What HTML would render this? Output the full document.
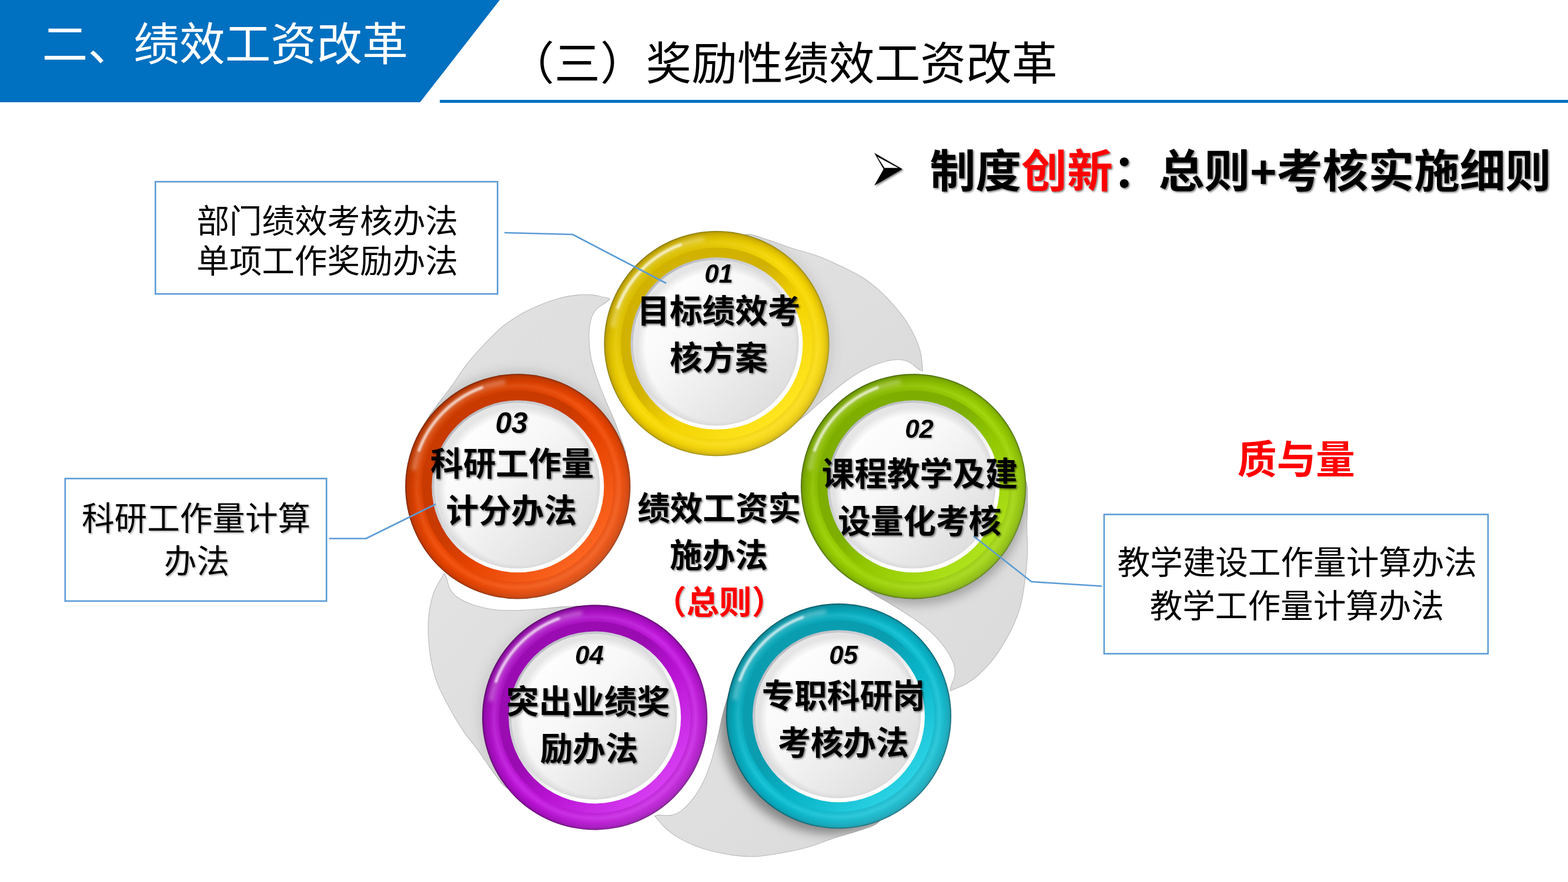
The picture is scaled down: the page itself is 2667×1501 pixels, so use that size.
<!DOCTYPE html>
<html lang="zh-CN"><head><meta charset="utf-8"><title>二、绩效工资改革 — （三）奖励性绩效工资改革</title>
<style>
html,body{margin:0;padding:0;background:#fff}
body{width:2667px;height:1501px;position:relative;overflow:hidden;font-family:"Liberation Sans",sans-serif}
svg{position:absolute;left:0;top:0;display:block}
svg text{font-family:"Liberation Sans","Noto Sans CJK SC",sans-serif;white-space:pre}
</style></head><body>
<svg width="2667" height="1501" viewBox="0 0 2667 1501">
<defs>
<filter id="ts" x="-5%" y="-20%" width="112%" height="150%"><feGaussianBlur in="SourceAlpha" stdDeviation="1.5"/><feOffset dx="2.4" dy="2.4"/><feComponentTransfer><feFuncA type="linear" slope=".5"/></feComponentTransfer><feMerge><feMergeNode/><feMergeNode in="SourceGraphic"/></feMerge></filter>
<filter id="ts2" x="-5%" y="-20%" width="112%" height="150%"><feGaussianBlur in="SourceAlpha" stdDeviation="1.1"/><feOffset dx="1.5" dy="1.5"/><feComponentTransfer><feFuncA type="linear" slope=".28"/></feComponentTransfer><feMerge><feMergeNode/><feMergeNode in="SourceGraphic"/></feMerge></filter>
<filter id="b1" x="-30%" y="-30%" width="160%" height="160%"><feGaussianBlur stdDeviation="1.4"/></filter>
<filter id="b2" x="-30%" y="-30%" width="160%" height="160%"><feGaussianBlur stdDeviation="3"/></filter>
<filter id="b9" x="-30%" y="-30%" width="160%" height="160%"><feGaussianBlur stdDeviation="9"/></filter>
<linearGradient id="disc" x1=".15" y1=".15" x2=".85" y2=".85"><stop offset="0" stop-color="#fff"/><stop offset=".4" stop-color="#f7f7f7"/><stop offset="1" stop-color="#dfdfdf"/></linearGradient>
<linearGradient id="dedge" x1=".15" y1=".15" x2=".85" y2=".85"><stop offset="0" stop-color="#b9bbc2"/><stop offset=".45" stop-color="#dedee2"/><stop offset=".7" stop-color="#fff"/><stop offset="1" stop-color="#fff"/></linearGradient>
<radialGradient id="dsh" cx=".525" cy=".525" r=".5"><stop offset=".9" stop-color="#000" stop-opacity="0"/><stop offset="1" stop-color="#000" stop-opacity=".10"/></radialGradient>
<linearGradient id="lite" x1=".15" y1=".15" x2=".85" y2=".85"><stop offset="0" stop-color="#000" stop-opacity=".13"/><stop offset=".45" stop-color="#000" stop-opacity="0"/><stop offset=".6" stop-color="#fff" stop-opacity="0"/><stop offset="1" stop-color="#fff" stop-opacity=".12"/></linearGradient>
<linearGradient id="pet" x1="0" y1="0" x2="1" y2="1"><stop offset="0" stop-color="#e3e3e3"/><stop offset="1" stop-color="#dadada"/></linearGradient>
<radialGradient id="rby" r=".5"><stop offset=".85" stop-color="#F2D200"/><stop offset=".895" stop-color="#F9DC11"/><stop offset=".935" stop-color="#F2D200"/><stop offset=".962" stop-color="#E4C400"/><stop offset=".985" stop-color="#D2B200"/><stop offset="1" stop-color="#8E8414"/></radialGradient>
<linearGradient id="rvy" x1=".15" y1=".15" x2=".85" y2=".85"><stop offset="0" stop-color="#D2B200"/><stop offset=".4" stop-color="#D2B200"/><stop offset=".62" stop-color="#F2D200"/><stop offset="1" stop-color="#FFE51F"/></linearGradient>
<radialGradient id="rbg" r=".5"><stop offset=".85" stop-color="#93C800"/><stop offset=".895" stop-color="#A2D60E"/><stop offset=".935" stop-color="#93C800"/><stop offset=".962" stop-color="#89BC00"/><stop offset=".985" stop-color="#7DAE00"/><stop offset="1" stop-color="#44640A"/></radialGradient>
<linearGradient id="rvg" x1=".15" y1=".15" x2=".85" y2=".85"><stop offset="0" stop-color="#7DAE00"/><stop offset=".4" stop-color="#7DAE00"/><stop offset=".62" stop-color="#93C800"/><stop offset="1" stop-color="#AEE21A"/></linearGradient>
<radialGradient id="rbc" r=".5"><stop offset=".85" stop-color="#08B3C7"/><stop offset=".895" stop-color="#1BC4D7"/><stop offset=".935" stop-color="#08B3C7"/><stop offset=".962" stop-color="#09A9BD"/><stop offset=".985" stop-color="#0A9DB0"/><stop offset="1" stop-color="#065661"/></radialGradient>
<linearGradient id="rvc" x1=".15" y1=".15" x2=".85" y2=".85"><stop offset="0" stop-color="#0A9DB0"/><stop offset=".4" stop-color="#0A9DB0"/><stop offset=".62" stop-color="#08B3C7"/><stop offset="1" stop-color="#2AD2E4"/></linearGradient>
<radialGradient id="rbp" r=".5"><stop offset=".85" stop-color="#B812D2"/><stop offset=".895" stop-color="#C829E4"/><stop offset=".935" stop-color="#B812D2"/><stop offset=".962" stop-color="#AA0FC4"/><stop offset=".985" stop-color="#9A0CB2"/><stop offset="1" stop-color="#5C0A6A"/></radialGradient>
<linearGradient id="rvp" x1=".15" y1=".15" x2=".85" y2=".85"><stop offset="0" stop-color="#9A0CB2"/><stop offset=".4" stop-color="#9A0CB2"/><stop offset=".62" stop-color="#B812D2"/><stop offset="1" stop-color="#D63CF2"/></linearGradient>
<radialGradient id="rbo" r=".5"><stop offset=".85" stop-color="#E64300"/><stop offset=".895" stop-color="#F25512"/><stop offset=".935" stop-color="#E64300"/><stop offset=".962" stop-color="#D83F00"/><stop offset=".985" stop-color="#C83A00"/><stop offset="1" stop-color="#7E2A0C"/></radialGradient>
<linearGradient id="rvo" x1=".15" y1=".15" x2=".85" y2=".85"><stop offset="0" stop-color="#C83A00"/><stop offset=".4" stop-color="#C83A00"/><stop offset=".62" stop-color="#E64300"/><stop offset="1" stop-color="#FC6420"/></linearGradient>
<clipPath id="cp0"><path d="M1239.7 414.6C1244.5 412 1257.7 400.2 1268.3 399C1278.9 397.8 1290.8 403.4 1303.5 407.2C1316.2 411 1331 417.2 1344.8 421.7C1358.6 426.2 1372.4 429.1 1386.2 434.1C1400 439.1 1413.8 445.1 1427.6 451.7C1441.4 458.3 1456.9 465.7 1469 473.5C1481.1 481.3 1490.7 489.7 1500 498.3C1509.3 506.9 1517.7 516.6 1524.9 525.2C1532.2 533.8 1538 541.4 1543.5 550C1549 558.6 1554.2 568.3 1558 576.9C1561.8 585.5 1564.3 592.6 1566.2 601.7C1568.1 610.8 1568.8 626.5 1569.3 631.5C1568.1 630.9 1565.9 630.6 1562 628C1558.1 625.4 1552 618.7 1546 616C1540 613.3 1534.3 611.7 1526 612C1517.7 612.3 1506 614.8 1496 618C1486 621.2 1476.5 625.2 1466 631C1455.5 636.8 1444.3 644.5 1433 653C1421.7 661.5 1408.2 673.3 1398 682C1387.8 690.7 1383.7 695.5 1372 705C1360.3 714.5 1335.3 733.3 1328 739L1219 584.6Z"/></clipPath><clipPath id="cp1"><path d="M1720.9 795.1C1724.8 798.9 1740.1 807.8 1744.5 817.5C1749 827.2 1747.3 840.2 1747.6 853.5C1748 866.8 1746.6 882.8 1746.6 897.3C1746.6 911.8 1748.1 925.8 1747.6 940.5C1747.1 955.2 1745.6 970.2 1743.6 985.3C1741.7 1000.5 1739.4 1017.5 1735.7 1031.4C1732 1045.3 1727 1057 1721.7 1068.6C1716.4 1080.1 1709.8 1091 1703.8 1100.6C1697.9 1110.1 1692.5 1118 1686 1125.9C1679.5 1133.8 1671.9 1141.7 1664.9 1148C1657.8 1154.3 1651.9 1158.9 1643.8 1163.5C1635.7 1168.1 1621 1173.6 1616.4 1175.6C1616.6 1174.3 1616.2 1172.1 1617.5 1167.6C1618.8 1163.1 1623.3 1155.2 1624 1148.7C1624.7 1142.2 1624.5 1136.2 1621.6 1128.4C1618.7 1120.6 1612.7 1110.3 1606.6 1101.7C1600.5 1093.2 1593.8 1085.4 1585 1077.2C1576.2 1069 1565.5 1060.8 1553.9 1052.6C1542.3 1044.5 1526.9 1035.3 1515.5 1028.3C1504.1 1021.3 1498.2 1018.9 1485.6 1010.7C1472.9 1002.5 1447.3 984.6 1439.6 979.4L1553.7 827.8Z"/></clipPath><clipPath id="cp2"><path d="M1507.6 1370.4C1505.3 1375.3 1501.5 1392.5 1493.7 1399.8C1485.8 1407 1472.9 1409.4 1460.4 1413.8C1447.8 1418.3 1432.2 1421.9 1418.4 1426.4C1404.7 1430.8 1391.8 1436.6 1377.7 1440.7C1363.6 1444.7 1348.8 1448 1333.8 1450.8C1318.8 1453.6 1301.8 1456.7 1287.5 1457.5C1273.2 1458.3 1260.5 1457.1 1247.9 1455.6C1235.3 1454.1 1222.8 1451.2 1211.9 1448.5C1201 1445.8 1191.8 1443.1 1182.3 1439.4C1172.7 1435.6 1162.9 1430.9 1154.7 1426.1C1146.6 1421.4 1140.4 1417.1 1133.5 1410.9C1126.6 1404.6 1116.8 1392.3 1113.5 1388.6C1114.8 1388.4 1116.8 1387.3 1121.5 1387.1C1126.1 1386.9 1135 1388.8 1141.5 1387.4C1147.9 1386.1 1153.4 1384.1 1160 1378.9C1166.5 1373.8 1174.5 1364.9 1180.7 1356.4C1187 1348 1192.3 1339.2 1197.4 1328.3C1202.4 1317.4 1207 1304.6 1211.1 1291.1C1215.3 1277.6 1219.3 1260 1222.4 1247.1C1225.5 1234.1 1226.1 1227.7 1229.9 1213.2C1233.8 1198.6 1242.9 1168.7 1245.5 1159.8L1426.5 1218.7Z"/></clipPath><clipPath id="cp3"><path d="M894.7 1345.3C889.3 1344.6 871.7 1346.4 862.4 1341.1C853.1 1335.9 846.8 1324.3 838.7 1313.8C830.6 1303.2 822.4 1289.5 813.8 1277.8C805.3 1266.1 795.9 1255.6 787.6 1243.4C779.4 1231.3 771.8 1218.3 764.5 1204.8C757.2 1191.4 749 1176.2 743.8 1162.9C738.6 1149.5 735.8 1137 733.3 1124.6C730.8 1112.1 729.8 1099.4 729 1088.2C728.2 1077 727.9 1067.4 728.5 1057.2C729.1 1047 730.6 1036.1 732.6 1026.9C734.6 1017.7 736.7 1010.5 740.5 1002C744.4 993.6 753 980.4 755.5 976.1C756.2 977.3 757.8 978.8 759.4 983.2C761 987.6 762 996.6 765.3 1002.3C768.6 1008 772.2 1012.7 779.1 1017.3C786 1021.9 796.9 1026.8 806.9 1030.1C816.9 1033.4 826.9 1035.8 838.8 1037.2C850.7 1038.7 864.3 1039 878.4 1038.8C892.6 1038.6 910.5 1037 923.8 1035.9C937.1 1034.9 943.3 1033.4 958.4 1032.6C973.4 1031.8 1004.7 1031.2 1013.9 1031L1011.7 1220.9Z"/></clipPath><clipPath id="cp4"><path d="M729.1 754.6C728.1 749.3 721 733.1 723.1 722.6C725.2 712.1 734.2 702.6 741.8 691.7C749.3 680.7 759.8 668.6 768.3 656.9C776.9 645.1 783.9 632.9 792.9 621.3C801.9 609.7 811.9 598.5 822.4 587.4C833 576.3 844.9 563.8 856 554.7C867.1 545.7 878.1 539.1 889.1 532.9C900.2 526.7 912 521.8 922.4 517.6C932.9 513.3 941.9 510.1 951.8 507.5C961.7 504.9 972.5 503 981.8 502.1C991.2 501.1 998.7 500.9 1007.9 501.9C1017.2 502.9 1032.4 507.1 1037.2 508.2C1036.3 509.2 1035.3 511.1 1031.7 514C1028 516.9 1019.7 520.7 1015.3 525.5C1010.9 530.4 1007.6 535.3 1005.3 543.3C1003.1 551.4 1001.8 563.2 1001.7 573.7C1001.7 584.2 1002.5 594.5 1004.8 606.3C1007.1 618.1 1011 631 1015.6 644.5C1020.1 657.9 1027.2 674.4 1032.3 686.7C1037.4 699 1040.7 704.5 1046.2 718.5C1051.6 732.6 1061.8 762.2 1064.9 770.9L880.8 827.8Z"/></clipPath>
</defs>
<path d="M0 0H850L714.5 174H0Z" fill="#0070c0"/>
<rect x="748" y="170" width="1919" height="5" fill="#0070c0"/>
<rect x="264.3" y="309.2" width="582" height="191" fill="#fff" stroke="#5b9bd5" stroke-width="2.6"/>
<rect x="110.8" y="814.4" width="444.5" height="208.5" fill="#fff" stroke="#5b9bd5" stroke-width="2.6"/>
<rect x="1878" y="875.5" width="653" height="237" fill="#fff" stroke="#5b9bd5" stroke-width="2.6"/>
<path d="M1239.7 414.6C1244.5 412 1257.7 400.2 1268.3 399C1278.9 397.8 1290.8 403.4 1303.5 407.2C1316.2 411 1331 417.2 1344.8 421.7C1358.6 426.2 1372.4 429.1 1386.2 434.1C1400 439.1 1413.8 445.1 1427.6 451.7C1441.4 458.3 1456.9 465.7 1469 473.5C1481.1 481.3 1490.7 489.7 1500 498.3C1509.3 506.9 1517.7 516.6 1524.9 525.2C1532.2 533.8 1538 541.4 1543.5 550C1549 558.6 1554.2 568.3 1558 576.9C1561.8 585.5 1564.3 592.6 1566.2 601.7C1568.1 610.8 1568.8 626.5 1569.3 631.5C1568.1 630.9 1565.9 630.6 1562 628C1558.1 625.4 1552 618.7 1546 616C1540 613.3 1534.3 611.7 1526 612C1517.7 612.3 1506 614.8 1496 618C1486 621.2 1476.5 625.2 1466 631C1455.5 636.8 1444.3 644.5 1433 653C1421.7 661.5 1408.2 673.3 1398 682C1387.8 690.7 1383.7 695.5 1372 705C1360.3 714.5 1335.3 733.3 1328 739L1219 584.6Z" fill="url(#pet)" stroke="#b9b9b9" stroke-width="1.1"/>
<path d="M1720.9 795.1C1724.8 798.9 1740.1 807.8 1744.5 817.5C1749 827.2 1747.3 840.2 1747.6 853.5C1748 866.8 1746.6 882.8 1746.6 897.3C1746.6 911.8 1748.1 925.8 1747.6 940.5C1747.1 955.2 1745.6 970.2 1743.6 985.3C1741.7 1000.5 1739.4 1017.5 1735.7 1031.4C1732 1045.3 1727 1057 1721.7 1068.6C1716.4 1080.1 1709.8 1091 1703.8 1100.6C1697.9 1110.1 1692.5 1118 1686 1125.9C1679.5 1133.8 1671.9 1141.7 1664.9 1148C1657.8 1154.3 1651.9 1158.9 1643.8 1163.5C1635.7 1168.1 1621 1173.6 1616.4 1175.6C1616.6 1174.3 1616.2 1172.1 1617.5 1167.6C1618.8 1163.1 1623.3 1155.2 1624 1148.7C1624.7 1142.2 1624.5 1136.2 1621.6 1128.4C1618.7 1120.6 1612.7 1110.3 1606.6 1101.7C1600.5 1093.2 1593.8 1085.4 1585 1077.2C1576.2 1069 1565.5 1060.8 1553.9 1052.6C1542.3 1044.5 1526.9 1035.3 1515.5 1028.3C1504.1 1021.3 1498.2 1018.9 1485.6 1010.7C1472.9 1002.5 1447.3 984.6 1439.6 979.4L1553.7 827.8Z" fill="url(#pet)" stroke="#b9b9b9" stroke-width="1.1"/>
<path d="M1507.6 1370.4C1505.3 1375.3 1501.5 1392.5 1493.7 1399.8C1485.8 1407 1472.9 1409.4 1460.4 1413.8C1447.8 1418.3 1432.2 1421.9 1418.4 1426.4C1404.7 1430.8 1391.8 1436.6 1377.7 1440.7C1363.6 1444.7 1348.8 1448 1333.8 1450.8C1318.8 1453.6 1301.8 1456.7 1287.5 1457.5C1273.2 1458.3 1260.5 1457.1 1247.9 1455.6C1235.3 1454.1 1222.8 1451.2 1211.9 1448.5C1201 1445.8 1191.8 1443.1 1182.3 1439.4C1172.7 1435.6 1162.9 1430.9 1154.7 1426.1C1146.6 1421.4 1140.4 1417.1 1133.5 1410.9C1126.6 1404.6 1116.8 1392.3 1113.5 1388.6C1114.8 1388.4 1116.8 1387.3 1121.5 1387.1C1126.1 1386.9 1135 1388.8 1141.5 1387.4C1147.9 1386.1 1153.4 1384.1 1160 1378.9C1166.5 1373.8 1174.5 1364.9 1180.7 1356.4C1187 1348 1192.3 1339.2 1197.4 1328.3C1202.4 1317.4 1207 1304.6 1211.1 1291.1C1215.3 1277.6 1219.3 1260 1222.4 1247.1C1225.5 1234.1 1226.1 1227.7 1229.9 1213.2C1233.8 1198.6 1242.9 1168.7 1245.5 1159.8L1426.5 1218.7Z" fill="url(#pet)" stroke="#b9b9b9" stroke-width="1.1"/>
<path d="M894.7 1345.3C889.3 1344.6 871.7 1346.4 862.4 1341.1C853.1 1335.9 846.8 1324.3 838.7 1313.8C830.6 1303.2 822.4 1289.5 813.8 1277.8C805.3 1266.1 795.9 1255.6 787.6 1243.4C779.4 1231.3 771.8 1218.3 764.5 1204.8C757.2 1191.4 749 1176.2 743.8 1162.9C738.6 1149.5 735.8 1137 733.3 1124.6C730.8 1112.1 729.8 1099.4 729 1088.2C728.2 1077 727.9 1067.4 728.5 1057.2C729.1 1047 730.6 1036.1 732.6 1026.9C734.6 1017.7 736.7 1010.5 740.5 1002C744.4 993.6 753 980.4 755.5 976.1C756.2 977.3 757.8 978.8 759.4 983.2C761 987.6 762 996.6 765.3 1002.3C768.6 1008 772.2 1012.7 779.1 1017.3C786 1021.9 796.9 1026.8 806.9 1030.1C816.9 1033.4 826.9 1035.8 838.8 1037.2C850.7 1038.7 864.3 1039 878.4 1038.8C892.6 1038.6 910.5 1037 923.8 1035.9C937.1 1034.9 943.3 1033.4 958.4 1032.6C973.4 1031.8 1004.7 1031.2 1013.9 1031L1011.7 1220.9Z" fill="url(#pet)" stroke="#b9b9b9" stroke-width="1.1"/>
<path d="M729.1 754.6C728.1 749.3 721 733.1 723.1 722.6C725.2 712.1 734.2 702.6 741.8 691.7C749.3 680.7 759.8 668.6 768.3 656.9C776.9 645.1 783.9 632.9 792.9 621.3C801.9 609.7 811.9 598.5 822.4 587.4C833 576.3 844.9 563.8 856 554.7C867.1 545.7 878.1 539.1 889.1 532.9C900.2 526.7 912 521.8 922.4 517.6C932.9 513.3 941.9 510.1 951.8 507.5C961.7 504.9 972.5 503 981.8 502.1C991.2 501.1 998.7 500.9 1007.9 501.9C1017.2 502.9 1032.4 507.1 1037.2 508.2C1036.3 509.2 1035.3 511.1 1031.7 514C1028 516.9 1019.7 520.7 1015.3 525.5C1010.9 530.4 1007.6 535.3 1005.3 543.3C1003.1 551.4 1001.8 563.2 1001.7 573.7C1001.7 584.2 1002.5 594.5 1004.8 606.3C1007.1 618.1 1011 631 1015.6 644.5C1020.1 657.9 1027.2 674.4 1032.3 686.7C1037.4 699 1040.7 704.5 1046.2 718.5C1051.6 732.6 1061.8 762.2 1064.9 770.9L880.8 827.8Z" fill="url(#pet)" stroke="#b9b9b9" stroke-width="1.1"/>
<g clip-path="url(#cp0)"><circle cx="1228.5" cy="581.5" r="190" fill="#000" fill-opacity="0.08" filter="url(#b9)"/></g>
<g clip-path="url(#cp1)"><circle cx="1556.8" cy="839.4" r="190" fill="#000" fill-opacity="0.26" filter="url(#b9)"/></g>
<g clip-path="url(#cp2)"><circle cx="1414.2" cy="1229" r="190" fill="#000" fill-opacity="0.4" filter="url(#b9)"/></g>
<g clip-path="url(#cp3)"><circle cx="1002.2" cy="1217.8" r="190" fill="#000" fill-opacity="0.08" filter="url(#b9)"/></g>
<g clip-path="url(#cp4)"><circle cx="880.8" cy="819.8" r="190" fill="#000" fill-opacity="0.13" filter="url(#b9)"/></g>
<g transform="translate(1219 584.6)"><circle r="191.6" fill="url(#rby)"/><circle r="191.6" fill="url(#lite)"/><circle r="163" fill="url(#rvy)"/><circle r="146.5" fill="url(#dedge)"/><circle r="141" cx="-1.2" cy="-1.2" fill="url(#disc)"/><circle r="141" cx="-1.2" cy="-1.2" fill="url(#dsh)"/><path d="M-176.3 -31.1A179 179 0 0 1 -24.9 -177.3" fill="none" stroke="#fff" stroke-opacity="0.3" stroke-width="8" stroke-linecap="round" filter="url(#b2)"/><path d="M-168.2 -61.2A179 179 0 0 1 -61.2 -168.2" fill="none" stroke="#fff" stroke-opacity="0.75" stroke-width="4.5" stroke-linecap="round" filter="url(#b1)"/></g>
<g transform="translate(1553.7 827.8)"><circle r="191.6" fill="url(#rbg)"/><circle r="191.6" fill="url(#lite)"/><circle r="163" fill="url(#rvg)"/><circle r="146.5" fill="url(#dedge)"/><circle r="141" cx="-1.2" cy="-1.2" fill="url(#disc)"/><circle r="141" cx="-1.2" cy="-1.2" fill="url(#dsh)"/><path d="M-176.3 -31.1A179 179 0 0 1 -24.9 -177.3" fill="none" stroke="#fff" stroke-opacity="0.3" stroke-width="8" stroke-linecap="round" filter="url(#b2)"/><path d="M-168.2 -61.2A179 179 0 0 1 -61.2 -168.2" fill="none" stroke="#fff" stroke-opacity="0.75" stroke-width="4.5" stroke-linecap="round" filter="url(#b1)"/></g>
<g transform="translate(1426.5 1218.7)"><circle r="191.6" fill="url(#rbc)"/><circle r="191.6" fill="url(#lite)"/><circle r="163" fill="url(#rvc)"/><circle r="146.5" fill="url(#dedge)"/><circle r="141" cx="-1.2" cy="-1.2" fill="url(#disc)"/><circle r="141" cx="-1.2" cy="-1.2" fill="url(#dsh)"/><path d="M-176.3 -31.1A179 179 0 0 1 -24.9 -177.3" fill="none" stroke="#fff" stroke-opacity="0.3" stroke-width="8" stroke-linecap="round" filter="url(#b2)"/><path d="M-168.2 -61.2A179 179 0 0 1 -61.2 -168.2" fill="none" stroke="#fff" stroke-opacity="0.75" stroke-width="4.5" stroke-linecap="round" filter="url(#b1)"/></g>
<g transform="translate(1011.7 1220.9)"><circle r="191.6" fill="url(#rbp)"/><circle r="191.6" fill="url(#lite)"/><circle r="163" fill="url(#rvp)"/><circle r="146.5" fill="url(#dedge)"/><circle r="141" cx="-1.2" cy="-1.2" fill="url(#disc)"/><circle r="141" cx="-1.2" cy="-1.2" fill="url(#dsh)"/><path d="M-176.3 -31.1A179 179 0 0 1 -24.9 -177.3" fill="none" stroke="#fff" stroke-opacity="0.3" stroke-width="8" stroke-linecap="round" filter="url(#b2)"/><path d="M-168.2 -61.2A179 179 0 0 1 -61.2 -168.2" fill="none" stroke="#fff" stroke-opacity="0.75" stroke-width="4.5" stroke-linecap="round" filter="url(#b1)"/></g>
<g transform="translate(880.8 827.8)"><circle r="191.6" fill="url(#rbo)"/><circle r="191.6" fill="url(#lite)"/><circle r="163" fill="url(#rvo)"/><circle r="146.5" fill="url(#dedge)"/><circle r="141" cx="-1.2" cy="-1.2" fill="url(#disc)"/><circle r="141" cx="-1.2" cy="-1.2" fill="url(#dsh)"/><path d="M-176.3 -31.1A179 179 0 0 1 -24.9 -177.3" fill="none" stroke="#fff" stroke-opacity="0.3" stroke-width="8" stroke-linecap="round" filter="url(#b2)"/><path d="M-168.2 -61.2A179 179 0 0 1 -61.2 -168.2" fill="none" stroke="#fff" stroke-opacity="0.75" stroke-width="4.5" stroke-linecap="round" filter="url(#b1)"/></g>
<path d="M858 396L974 399L1133 482" fill="none" stroke="#5b9bd5" stroke-width="2.6" stroke-linejoin="round"/>
<path d="M560 916.5H622.5L741 858" fill="none" stroke="#5b9bd5" stroke-width="2.6" stroke-linejoin="round"/>
<path d="M1656 912.5L1754.5 990L1874 997.5" fill="none" stroke="#5b9bd5" stroke-width="2.6" stroke-linejoin="round"/>
<g><text x="71.6" y="103.3" font-size="77.8" fill="#fff">二、绩效工资改革</text></g>
<g><text x="865.1" y="136.4" font-size="77.8" fill="#000">（三）奖励性绩效工资改革</text></g>
<g filter="url(#ts)"><path d="M1487.1 260.2L1534.9 287.8L1487.1 315.8L1502.9 287.8Z" fill="#000"/><path d="M1492 266.4L1527.7 285.7H1504.5Z" fill="#fff"/></g>
<g filter="url(#ts)"><text x="1581.5" y="318.6" font-size="77.8" font-weight="700" fill="#000">制度<tspan fill="#f00">创新</tspan>：总则+考核实施细则</text></g>
<g><text x="2104.7" y="806.1" font-size="66.7" font-weight="700" fill="#f00">质与量</text></g>
<g><text x="334.4" y="396.3" font-size="55.6" fill="#000">部门绩效考核办法</text></g>
<g><text x="334.3" y="463.9" font-size="55.6" fill="#000">单项工作奖励办法</text></g>
<g filter="url(#ts2)"><text x="139" y="902.2" font-size="55.6" fill="#000">科研工作量计算</text></g>
<g filter="url(#ts2)"><text x="278.8" y="975.1" font-size="55.6" fill="#000">办法</text></g>
<g><text x="1900.5" y="976.5" font-size="55.6" fill="#000">教学建设工作量计算办法</text></g>
<g><text x="1955.7" y="1050.8" font-size="55.6" fill="#000">教学工作量计算办法</text></g>
<g filter="url(#ts)"><text x="1084.2" y="885.2" font-size="55.6" font-weight="700" fill="#000">绩效工资实</text></g>
<g filter="url(#ts)"><text x="1139.1" y="965.4" font-size="55.6" font-weight="700" fill="#000">施办法</text></g>
<g filter="url(#ts2)"><text x="1111.9" y="1045.1" font-size="55.6" font-weight="700" fill="#f00">（总则）</text></g>
<g filter="url(#ts)"><text x="1083.4" y="548.7" font-size="55.6" font-weight="700" fill="#000">目标绩效考</text></g>
<g filter="url(#ts)"><text x="1138.9" y="629" font-size="55.6" font-weight="700" fill="#000">核方案</text></g>
<g filter="url(#ts)"><text x="1397.7" y="825.9" font-size="55.6" font-weight="700" fill="#000">课程教学及建</text></g>
<g filter="url(#ts)"><text x="1425.2" y="907.2" font-size="55.6" font-weight="700" fill="#000">设量化考核</text></g>
<g filter="url(#ts)"><text x="1295.7" y="1204.3" font-size="55.6" font-weight="700" fill="#000">专职科研岗</text></g>
<g filter="url(#ts)"><text x="1323.2" y="1284.3" font-size="55.6" font-weight="700" fill="#000">考核办法</text></g>
<g filter="url(#ts)"><text x="861.1" y="1214.3" font-size="55.6" font-weight="700" fill="#000">突出业绩奖</text></g>
<g filter="url(#ts)"><text x="918.5" y="1293.8" font-size="55.6" font-weight="700" fill="#000">励办法</text></g>
<g filter="url(#ts)"><text x="732.1" y="808.7" font-size="55.6" font-weight="700" fill="#000">科研工作量</text></g>
<g filter="url(#ts)"><text x="758.4" y="889.3" font-size="55.6" font-weight="700" fill="#000">计分办法</text></g>
<g filter="url(#ts2)"><text x="1198.2" y="480.7" font-size="43.8" font-weight="700" font-style="italic" fill="#000">01</text></g>
<g filter="url(#ts2)"><text x="1539.2" y="744.6" font-size="43.8" font-weight="700" font-style="italic" fill="#000">02</text></g>
<g filter="url(#ts2)"><text x="842.5" y="736.9" font-size="49.6" font-weight="700" font-style="italic" fill="#000">03</text></g>
<g filter="url(#ts2)"><text x="978.1" y="1129.8" font-size="43.8" font-weight="700" font-style="italic" fill="#000">04</text></g>
<g filter="url(#ts2)"><text x="1410.3" y="1129.8" font-size="43.8" font-weight="700" font-style="italic" fill="#000">05</text></g>
</svg>
</body></html>
